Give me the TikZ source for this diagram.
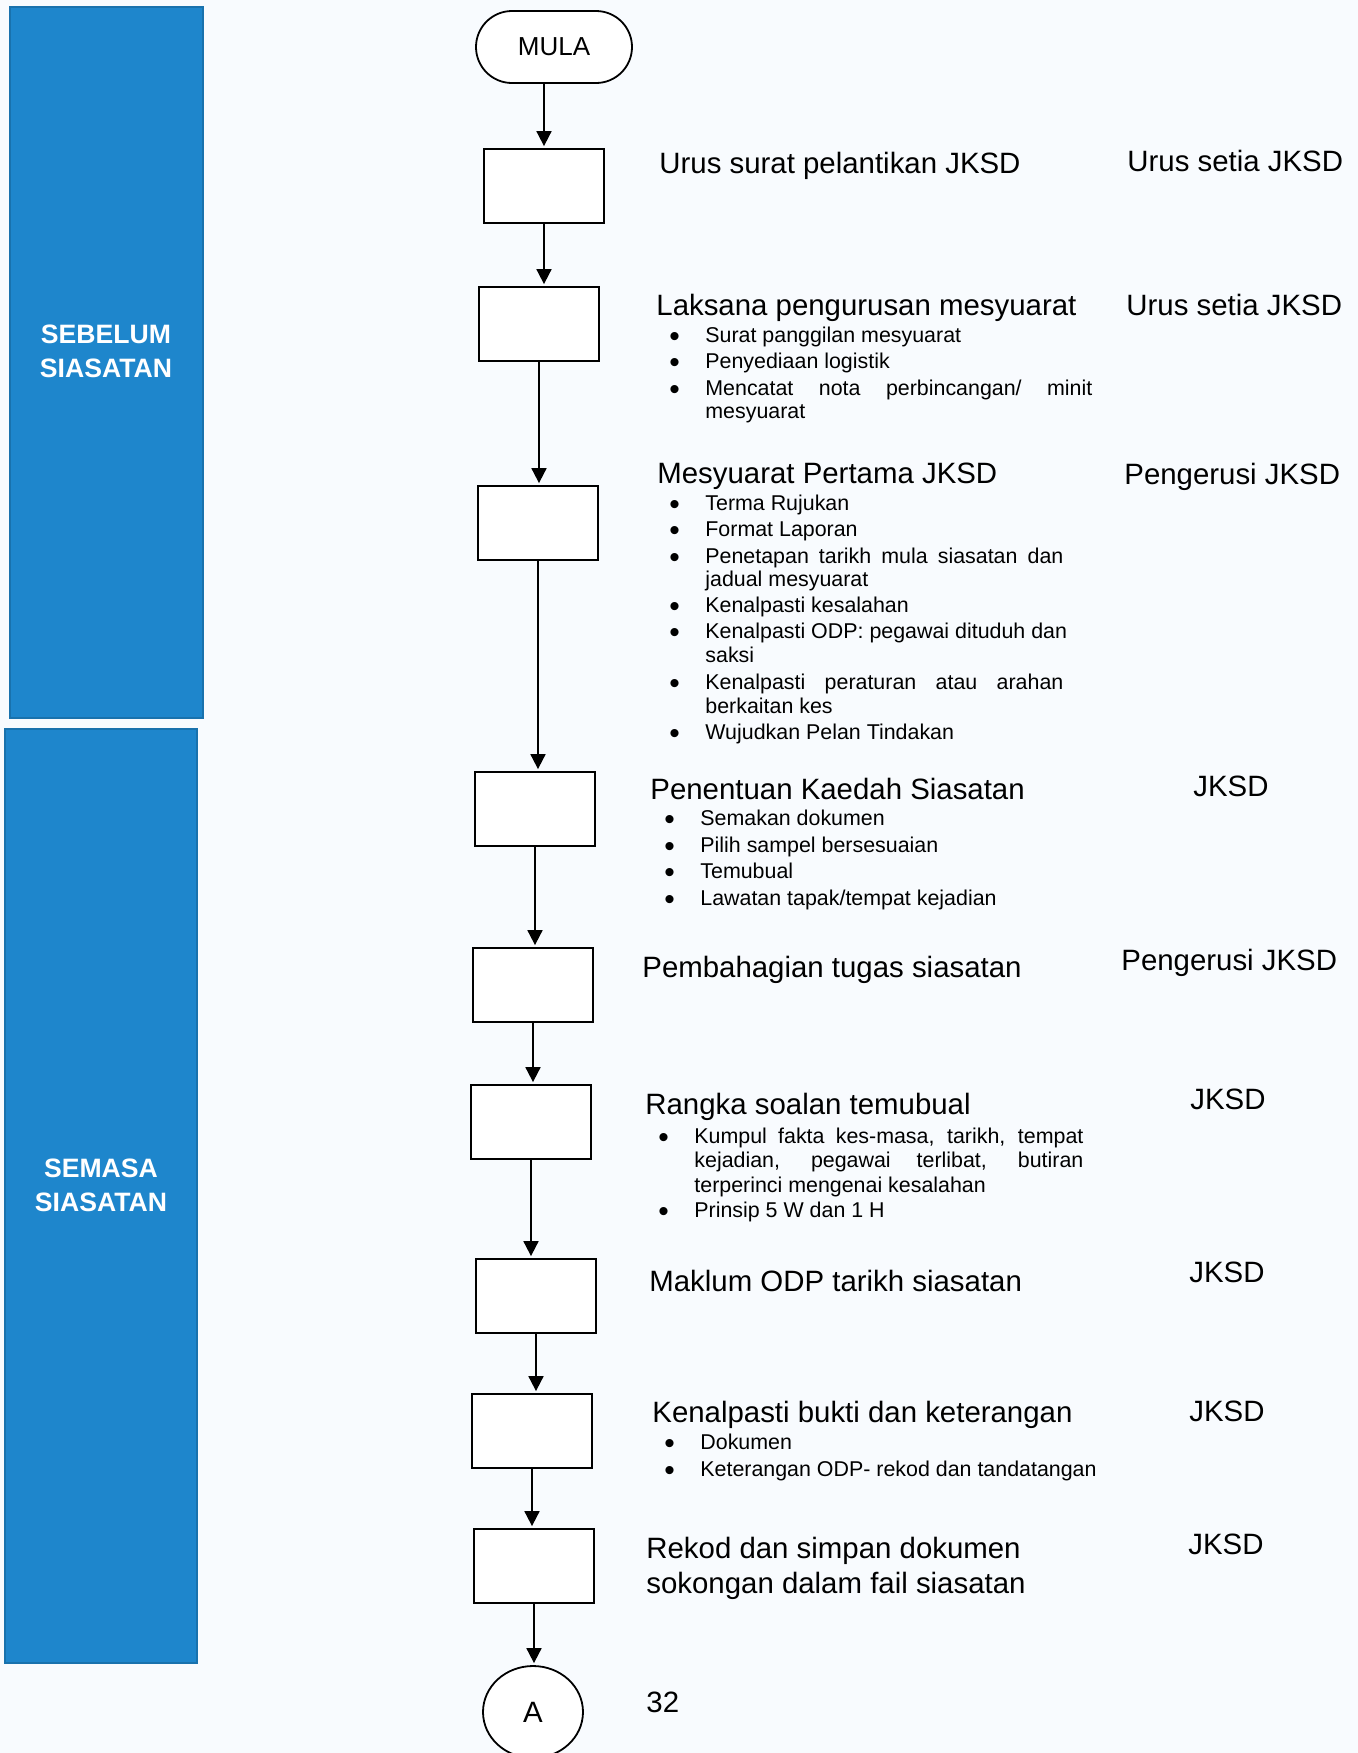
\documentclass[tikz,border=0pt]{standalone}
\usepackage{fontspec}
\setmainfont{Liberation Sans}
\usetikzlibrary{arrows.meta,shapes.geometric}
\definecolor{phaseblue}{RGB}{30,134,204}
\definecolor{paper}{RGB}{248,251,254}
\newcommand{\bul}{\makebox[18pt][l]{\smash{\raisebox{-2.3pt}{\scalebox{1.4}{\textbullet}}}}}
\newcommand{\jline}[2]{\makebox[#1][s]{#2}}
\begin{document}
\begin{tikzpicture}[x=0.5pt,y=-0.5pt,
    proc/.style={draw,line width=0.9pt,fill=white,minimum width=60pt,minimum height=37pt,inner sep=0pt},
    term/.style={draw,line width=0.9pt,fill=white,rounded corners=18pt,minimum width=78pt,minimum height=36pt,
      font=\fontsize{13}{15}\selectfont},
    conn/.style={draw,line width=0.9pt,fill=white,ellipse,minimum width=50pt,minimum height=46pt,inner sep=0pt,
      font=\fontsize{14.7}{17.6}\selectfont},
    head/.style={anchor=base west,inner sep=0pt,font=\fontsize{14.7}{17.6}\selectfont},
    who/.style={anchor=base west,inner sep=0pt,font=\fontsize{14.7}{17.6}\selectfont},
    itm/.style={anchor=base west,inner sep=0pt,font=\fontsize{10.7}{12.8}\selectfont},
    phase/.style={fill=phaseblue,draw=phaseblue!85!black,line width=0.6pt},
    phaselbl/.style={text=white,align=center,font=\bfseries\fontsize{13.3}{17}\selectfont}]
  \useasboundingbox (0,0) rectangle (1358,1753);
  \fill[paper] (0,0) rectangle (1358,1753);

  \draw[phase] (10,7) rectangle (203,718);
  \draw[phase] (5,729) rectangle (197,1663);
  \node[phaselbl] (sebelum) at (106,351) {SEBELUM\\SIASATAN};
  \node[phaselbl] (semasa) at (101,1185) {SEMASA\\SIASATAN};

  \node[term] (mula) at (554,47) {MULA};
  \node[proc] (p1) at (544,186) {};
  \node[proc] (p2) at (539,324) {};
  \node[proc] (p3) at (538,523) {};
  \node[proc] (p4) at (535,809) {};
  \node[proc] (p5) at (533,985) {};
  \node[proc] (p6) at (531,1122) {};
  \node[proc] (p7) at (536,1296) {};
  \node[proc] (p8) at (532,1431) {};
  \node[proc] (p9) at (534,1566) {};
  \node[conn] (a) at (533,1712) {A};

  \begin{scope}[-{Triangle[length=7.5pt,width=7.5pt]},line width=0.9pt,shorten >=1pt]
    \draw (mula.south -| p1.north) -- (p1.north);
    \draw (p1.south) -- (p1.south |- p2.north);
    \draw (p2.south) -- (p2.south |- p3.north);
    \draw (p3.south) -- (p3.south |- p4.north);
    \draw (p4.south) -- (p4.south |- p5.north);
    \draw (p5.south) -- (p5.south |- p6.north);
    \draw (p6.south) -- (p6.south |- p7.north);
    \draw (p7.south) -- (p7.south |- p8.north);
    \draw (p8.south) -- (p8.south |- p9.north);
    \draw (p9.south) -- (p9.south |- a.north);
  \end{scope}

  \node[head] (t1) at (659,173) {Urus surat pelantikan JKSD};
  \node[who] (w1) at (1127,171) {Urus setia JKSD};

  \node[head] (t2) at (656,315) {Laksana pengurusan mesyuarat};
  \node[who] (w2) at (1126,315) {Urus setia JKSD};
  \node[itm] (i2a) at (669,342) {\bul Surat panggilan mesyuarat};
  \node[itm] (i2b) at (669,368) {\bul Penyediaan logistik};
  \node[itm] (i2c) at (669,395) {\bul\jline{193.5pt}{Mencatat nota perbincangan/ minit}};
  \node[itm] (i2d) at (705,418) {mesyuarat};

  \node[head] (t3) at (657,483) {Mesyuarat Pertama JKSD};
  \node[who] (w3) at (1124,484) {Pengerusi JKSD};
  \node[itm] (i3a) at (669,510) {\bul Terma Rujukan};
  \node[itm] (i3b) at (669,536) {\bul Format Laporan};
  \node[itm] (i3c) at (669,563) {\bul\jline{179pt}{Penetapan tarikh mula siasatan dan}};
  \node[itm] (i3d) at (705,586) {jadual mesyuarat};
  \node[itm] (i3e) at (669,612) {\bul Kenalpasti kesalahan};
  \node[itm] (i3f) at (669,638) {\bul Kenalpasti ODP: pegawai dituduh dan};
  \node[itm] (i3g) at (705,662) {saksi};
  \node[itm] (i3h) at (669,689) {\bul\jline{179pt}{Kenalpasti peraturan atau arahan}};
  \node[itm] (i3i) at (705,713) {berkaitan kes};
  \node[itm] (i3j) at (669,739) {\bul Wujudkan Pelan Tindakan};

  \node[head] (t4) at (650,799) {Penentuan Kaedah Siasatan};
  \node[who] (w4) at (1193,796) {JKSD};
  \node[itm] (i4a) at (664,825) {\bul Semakan dokumen};
  \node[itm] (i4b) at (664,852) {\bul Pilih sampel bersesuaian};
  \node[itm] (i4c) at (664,878) {\bul Temubual};
  \node[itm] (i4d) at (664,905) {\bul Lawatan tapak/tempat kejadian};

  \node[head] (t5) at (642,977) {Pembahagian tugas siasatan};
  \node[who] (w5) at (1121,970) {Pengerusi JKSD};

  \node[head] (t6) at (645,1114) {Rangka soalan temubual};
  \node[who] (w6) at (1190,1109) {JKSD};
  \node[itm] (i6a) at (658,1143) {\bul\jline{194.5pt}{Kumpul fakta kes-masa, tarikh, tempat}};
  \node[itm] (i6b) at (694,1167) {\jline{194.5pt}{kejadian, pegawai terlibat, butiran}};
  \node[itm] (i6c) at (694,1192) {terperinci mengenai kesalahan};
  \node[itm] (i6d) at (658,1217) {\bul Prinsip 5 W dan 1 H};

  \node[head] (t7) at (649,1291) {Maklum ODP tarikh siasatan};
  \node[who] (w7) at (1189,1282) {JKSD};

  \node[head] (t8) at (652,1422) {Kenalpasti bukti dan keterangan};
  \node[who] (w8) at (1189,1421) {JKSD};
  \node[itm] (i8a) at (664,1449) {\bul Dokumen};
  \node[itm] (i8b) at (664,1476) {\bul Keterangan ODP- rekod dan tandatangan};

  \node[head] (t9a) at (646,1558) {Rekod dan simpan dokumen};
  \node[head] (t9b) at (646,1593) {sokongan dalam fail siasatan};
  \node[who] (w9) at (1188,1554) {JKSD};

  \node[head] (pg) at (646,1712) {32};
\end{tikzpicture}
\end{document}
